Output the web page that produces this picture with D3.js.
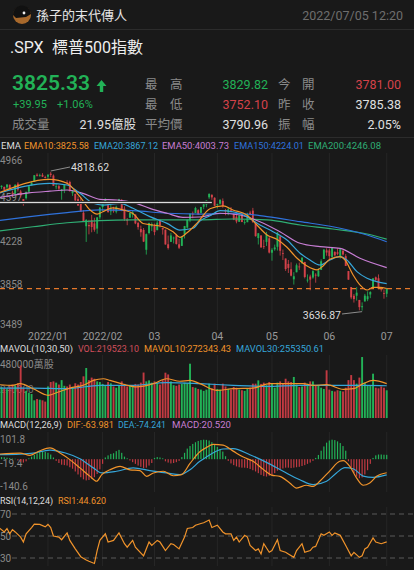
<!DOCTYPE html>
<html><head><meta charset="utf-8">
<script src="https://cdn.jsdelivr.net/npm/d3@7"></script>
<style>
html,body{margin:0;padding:0;background:#191919;overflow:hidden;}
svg{display:block;}
text{font-family:Roboto,"Noto Sans CJK TC","Noto Sans",sans-serif;}
</style></head><body>
<svg id="c" width="414" height="570"></svg>
<script>
// ---------- DATA (S&P 500 daily, 2021-12-07 .. 2022-07-01) ----------
const opens = [
4631.97,4690.86,4691.00,4687.64,4710.30,4642.99,4636.46,4719.13,4652.50,4587.90,4594.96,4650.36,4703.96,4733.99,4795.49,4788.64,4794.23,4775.21,
4778.14,4804.51,4787.99,4693.39,4697.66,4655.34,4669.14,4728.59,4733.56,4637.99,4632.24,4588.03,4547.35,4471.38,4356.32,4366.64,4408.43,4380.58,4336.19,4431.79,
4519.57,4566.39,4535.41,4482.79,4505.75,4480.02,4547.00,4553.24,4506.27,4412.61,4429.28,4455.75,4456.06,4384.57,4332.74,4324.93,4155.77,4298.38,4354.17,
4363.14,4322.56,4401.31,4342.12,4327.01,4202.66,4223.10,4252.55,4279.50,4202.75,4188.82,4288.14,4345.11,4407.34,4462.40,4469.10,4493.10,4469.98,4522.66,4541.09,4602.86,4624.20,4599.02,
4540.32,4547.97,4572.45,4494.17,4474.65,4494.15,4462.64,4437.59,4394.30,4449.12,4385.63,4390.63,4472.26,4489.17,4385.83,4255.34,4278.14,4186.52,4222.58,4253.75,
4130.61,4159.78,4181.18,4270.43,4128.17,4081.27,4035.18,3990.08,3903.95,3963.90,4013.02,4052.00,4051.98,3899.00,3927.76,3919.42,3942.94,3929.59,3984.60,4077.43,4151.09,
4149.78,4095.41,4137.57,4134.72,4096.47,4147.12,4101.65,3974.39,3838.15,3763.52,3764.05,3728.18,3665.90,3715.31,3733.89,3774.71,3821.75,3920.76,3913.00,3825.09,3785.99,
3781.00];
const highs = [
4694.04,4705.06,4695.26,4713.57,4710.30,4660.47,4712.60,4731.99,4666.70,4587.90,4651.14,4697.67,4740.74,4791.49,4807.02,4804.06,4808.93,4786.83,
4796.64,4818.62,4797.70,4725.01,4707.95,4673.02,4714.13,4748.83,4744.13,4665.13,4632.24,4611.55,4602.11,4494.52,4417.35,4411.01,4453.23,4428.74,4432.72,4516.89,
4550.49,4595.31,4542.88,4539.66,4521.86,4531.32,4590.03,4588.92,4526.33,4426.22,4472.77,4489.55,4456.06,4394.60,4362.12,4341.51,4294.73,4385.34,4388.84,
4378.45,4401.48,4416.78,4342.12,4327.01,4276.94,4299.40,4268.28,4291.01,4247.57,4271.05,4358.90,4412.67,4465.40,4481.75,4522.00,4501.07,4520.58,4546.03,4575.65,4637.30,4627.77,4603.07,
4548.70,4583.50,4593.45,4503.94,4521.16,4520.41,4464.35,4471.00,4453.92,4460.46,4410.31,4471.03,4488.29,4512.94,4385.83,4299.02,4278.14,4240.71,4308.45,4269.68,
4169.81,4200.10,4307.66,4270.43,4157.69,4081.27,4068.82,4049.09,3964.80,4038.88,4046.46,4090.72,4051.98,3945.96,3943.42,3981.88,3955.68,3999.33,4075.14,4158.49,4168.34,
4166.54,4177.51,4142.67,4168.78,4164.86,4160.14,4119.10,3974.39,3838.15,3778.18,3837.56,3728.18,3707.71,3779.65,3801.79,3802.58,3913.65,3927.72,3945.86,3836.50,3818.99,
3829.82];
const lows = [
4631.97,4674.52,4665.98,4670.24,4667.60,4606.52,4611.22,4651.89,4600.22,4531.10,4583.16,4645.53,4703.96,4733.99,4780.04,4778.08,4775.33,4765.75,
4758.17,4774.27,4699.44,4671.26,4662.74,4582.24,4638.27,4706.71,4650.29,4614.75,4568.70,4530.20,4477.95,4395.34,4222.62,4287.11,4304.80,4309.50,4292.46,4414.02,
4483.53,4544.32,4470.39,4451.50,4471.47,4465.40,4547.00,4484.31,4401.41,4364.84,4429.28,4429.68,4373.81,4327.22,4267.11,4221.51,4114.65,4286.83,4315.12,
4279.54,4322.56,4345.56,4284.98,4199.85,4157.87,4223.10,4209.80,4200.49,4161.72,4187.90,4251.99,4335.65,4390.57,4424.30,4469.10,4455.81,4465.17,4501.07,4517.69,4589.66,4581.32,4530.41,
4507.57,4539.21,4514.17,4450.04,4450.30,4474.60,4408.38,4381.34,4392.70,4390.77,4370.30,4390.63,4448.76,4384.47,4267.62,4200.82,4175.04,4162.90,4188.63,4124.28,
4062.51,4147.08,4148.91,4106.01,4067.91,3975.48,3958.17,3928.82,3858.87,3963.90,3983.99,4033.93,3911.91,3876.58,3810.32,3909.04,3875.13,3925.03,3984.60,4077.43,4104.88,
4073.85,4074.37,4098.67,4109.18,4080.19,4107.20,4017.17,3900.16,3734.30,3705.68,3722.30,3639.77,3636.87,3715.31,3717.69,3743.52,3821.75,3889.66,3820.14,3799.02,3738.67,
3752.10];
const closes = [
4686.75,4701.21,4667.45,4712.02,4668.97,4634.09,4709.85,4668.67,4620.64,4568.02,4649.23,4696.56,4725.79,4791.19,4786.35,4793.06,4778.73,4766.18,
4796.56,4793.54,4700.58,4696.05,4677.03,4670.29,4713.07,4726.35,4659.03,4662.85,4577.11,4532.76,4482.73,4397.94,4410.13,4356.45,4349.93,4326.51,4431.85,4515.55,
4546.54,4589.38,4477.44,4500.53,4483.87,4521.54,4587.18,4504.08,4418.64,4401.67,4471.07,4475.01,4380.26,4348.87,4304.76,4225.50,4288.70,4384.65,4373.94,
4306.26,4386.54,4363.49,4328.87,4201.09,4170.70,4277.88,4259.52,4204.31,4173.11,4262.45,4357.86,4411.67,4463.12,4461.18,4511.61,4456.24,4520.16,4543.06,4575.52,4631.60,4602.45,4530.41,
4545.86,4582.64,4525.12,4481.15,4500.21,4488.28,4412.53,4397.45,4446.59,4392.59,4391.69,4462.21,4459.45,4393.66,4271.78,4296.12,4175.20,4183.96,4287.50,4131.93,
4155.38,4175.48,4300.17,4146.87,4123.34,3991.24,4001.05,3935.18,3930.08,4023.89,4008.01,4088.85,3923.68,3900.79,3901.36,3973.75,3941.48,3978.73,4057.84,4158.24,4132.15,
4101.23,4176.82,4108.54,4121.43,4160.68,4115.77,4017.82,3900.86,3749.63,3735.48,3789.99,3666.77,3674.84,3764.79,3759.89,3795.73,3911.74,3900.11,3821.55,3818.83,3785.38,
3825.33];
// volume, thousands of 萬股
const volK = [
262,245,232,228,250,265,258,275,417,232,215,200,190,140,150,145,140,130,
250,285,290,280,265,300,255,250,265,245,275,265,285,330,396,300,320,311,290,285,
270,260,285,275,250,240,255,290,270,250,260,245,270,265,280,360,290,298,280,
290,275,265,300,359,345,290,260,255,265,270,280,275,430,245,240,230,225,215,225,272,235,272,
230,225,272,250,232,225,246,240,225,220,215,232,240,272,272,298,270,280,260,285,
270,240,280,290,275,311,290,285,325,265,245,250,280,272,290,290,260,255,240,230,378,
225,215,210,220,215,210,240,300,340,300,272,320,483,280,260,255,351,240,235,250,240,
219.52];
// MACD histogram per day
const macdHist = [
8,10,9,7,5,3,2,-6,-12,-16,-10,4,12,20,28,34,36,34,30,22,8,-8,-18,-26,-28,-30,-38,-45,-58,-72,-85,-95,-100,-98,-92,-85,-70,-48,
-22,8,18,25,28,38,44,30,12,4,-6,-14,-22,-30,-36,-42,-40,-30,-18,
6,10,8,4,-10,-16,-20,-18,-14,-8,10,30,50,62,72,80,86,90,92,91,88,80,70,
58,48,36,14,-8,-20,-28,-34,-38,-40,-40,-42,-46,-52,-58,-66,-74,-80,-82,-78,
-74,-66,-54,-48,-44,-40,-40,-42,-40,-38,-36,-32,-28,-22,-16,-8,6,20,40,60,78,
88,92,90,84,76,62,40,-10,-40,-65,-82,-90,-86,-72,-52,-22,6,18,22,22,21,
20.52];
// indicator lines: [day index, value]
const ema10 = [[0,4640],[18.7,4756],[25,4722],[29.7,4608],[33.4,4495],[36,4460],[38.1,4480],[41.8,4512],[45.5,4495],[49.1,4465],[52.8,4380],[56.4,4367],[60.1,4352],[63.8,4310],[66.3,4262],[68.9,4301],[72.5,4381],[77.3,4505],[82.1,4529],[85.7,4495],[90.8,4452],[94.5,4367],[98.2,4282],[101.8,4245],[105.5,4177],[109.2,4083],[112.8,4018],[116.5,3984],[118.7,4018],[121.2,4075],[124.9,4097],[126.7,4069],[129.7,3941],[132.2,3856],[134.8,3813],[137,3836],[139.5,3836],[142,3825.58]];
const ema20 = [[0,4637],[18.7,4722],[25,4708],[29.7,4637],[34.5,4552],[38.1,4537],[44.4,4552],[49.1,4509],[55.3,4438],[61.6,4381],[66.3,4324],[71.1,4339],[73.6,4400],[77.3,4445],[81,4489],[85.7,4480],[90.8,4438],[95.6,4367],[100.4,4310],[105.5,4239],[110.3,4126],[113.9,4069],[117.6,4026],[121.2,4069],[124.9,4097],[127.4,4069],[131.1,3969],[134.8,3913],[138.4,3884],[142,3867.12]];
const ema50 = [[0,4600],[11,4640],[18.7,4655],[25,4665],[30.8,4637],[37,4586],[43.3,4580],[49.1,4560],[55.3,4509],[61.6,4467],[67.4,4432],[73.6,4435],[81,4467],[88.3,4452],[95.6,4395],[102.9,4310],[110.3,4211],[117.6,4182],[124.9,4168],[132.2,4083],[142,4003.73]];
const ema150 = [[0,4404],[11.4,4438],[25,4472],[37,4495],[49.1,4489],[61.6,4467],[73.6,4460],[85.7,4467],[98.2,4438],[110.3,4395],[122.3,4352],[134.8,4282],[142,4224.01]];
const ema200 = [[0,4316],[12.5,4352],[25,4386],[37,4404],[49.1,4410],[61.6,4410],[73.6,4410],[85.7,4418],[98.2,4410],[110.3,4367],[122.3,4333],[134.8,4290],[142,4246.08]];
const mavol10 = [[0,264],[4.9,259],[7.8,272],[12.6,232],[18.1,180],[21.8,206],[26,237],[30.9,259],[34.6,298],[38.3,311],[40.7,298],[45.6,267],[50.5,246],[56.6,272],[61.4,311],[66.3,291],[70,298],[73.6,272],[79.7,219],[85.8,232],[93.1,237],[99.2,272],[105.3,272],[111.4,272],[115.1,259],[120,264],[126.1,227],[129.7,232],[133.4,272],[137,298],[142,272.34]];
const mavol30 = [[0,237],[12.6,237],[24.8,232],[37,259],[49.2,259],[61.4,280],[73.6,272],[85.8,259],[98,251],[110.2,259],[122.4,259],[134.6,259],[142,255.35]];
const dif = [[0,24],[7.8,29],[11.4,18],[15.1,40],[18.7,53],[22.4,29],[26,-2],[29.7,-41],[33.4,-81],[35.8,-104],[37.7,-73],[40.7,-50],[44.4,-34],[48,-50],[51.7,-54],[54.1,-81],[56.6,-65],[60.2,-57],[63.9,-78],[66.9,-73],[70,-20],[73.6,35],[76,55],[78.5,70],[82.1,66],[85.8,38],[89.5,10],[93.1,-10],[96.8,-48],[99.8,-75],[102.9,-81],[106.5,-112],[109,-136],[112.6,-123],[115.1,-128],[117.5,-104],[121.2,-55],[124.8,-10],[126.1,-7],[128.5,-34],[131,-89],[133.4,-123],[135.8,-112],[138.3,-81],[142,-63.98]];
const dea = [[0,21],[7.8,24],[12.6,29],[18.7,43],[24.4,29],[29.7,2],[34.6,-41],[37.7,-65],[43.1,-57],[49.2,-41],[55.3,-54],[61.4,-65],[66.3,-73],[70,-50],[73.6,-10],[76,10],[78.5,30],[82.1,48],[85.8,50],[91.9,21],[98,-15],[104.1,-57],[110.2,-97],[115.1,-120],[120,-104],[123.6,-65],[126.7,-40],[129.7,-45],[133.4,-80],[137,-86],[142,-74.24]];
const rsi = [[0,57.7],[2,53.7],[3,56.8],[4,52],[5,55.8],[6,53.7],[8,49],[9,44.5],[10,52],[12,57.7],[13,60.8],[15,60.5],[17,58.3],[18,60.5],[19,57.7],[20,50],[22,49],[23,46.6],[25,52.8],[26,46],[28,38.3],[30,31.2],[32,28.2],[33,27],[35,25],[36,36.8],[37,46],[39,52],[40,44.5],[42,46],[44,52.8],[46,43],[47,39.8],[49,46],[50,39.8],[53,32],[55,44.5],[56,41.4],[58,46],[59,44.5],[61,36.8],[63,43],[64,42.3],[66,38.3],[68,49],[69,56.8],[71,57.7],[72,59.8],[74,61.4],[75,62],[77,64.5],[78,57.7],[80,59.8],[82,53.7],[83,52],[85,52],[86,46],[87,49],[88,44.5],[90,50.6],[91,49],[92,41.4],[94,36.8],[95,38.3],[96,33.7],[97,43],[99,35.2],[100,36.8],[102,46.6],[103,36.8],[105,35.2],[106,33.7],[108,30.6],[109,36.8],[111,43],[112,35.2],[114,36.8],[115,39.8],[116,40.5],[118,52],[119,50.6],[121,53.7],[122,50.6],[123,52.8],[125,50.6],[127,41.4],[129,32],[130,35.2],[132,30.6],[133,32],[134,38.3],[135,39.8],[137,48.2],[138,44.5],[140,43],[142,44.62]];
const monthIdx = [18,38,57,80,100,121,142];
const monthLabels = ["2022/01","2022/02","03","04","05","06","07"];
const priceTicks = [4966,4597,4228,3858,3489];
const macdTicks = [101.8,-19.4,-140.6];
const rsiLevels = [70,50,30];
const volTicks = [480,240];
const lastPrice = 3825.33, drawnLine = 4558, maxIdx = 19, minIdx = 133;

// ---------- DRAW ----------
const svg = d3.select("#c");
const UP="#22b257", DN="#d4424a", GRID="#262626", LBL="#8a8a8a";
const C10="#f0932b", C20="#36a6d9", C50="#c77dd3", C150="#2f72dc", C200="#2fae74";
const n = closes.length;
const x = d3.scaleLinear().domain([0,142]).range([-1.2,386.7]);
const yP = d3.scaleLinear().domain([3489,4966]).range([328,154.7]);
const yV = d3.scaleLinear().domain([0,480]).range([418,357.4]);
const yM = d3.scaleLinear().domain([-140.6,101.8]).range([489,437.6]);
const yR = d3.scaleLinear().domain([30,70]).range([558,514]);

svg.append("rect").attr("width",414).attr("height",570).attr("fill","#191919");

// fit a text into a max width
function fit(sel, maxW){
  const node = sel.node();
  const w = node.getComputedTextLength();
  if (w > maxW) sel.attr("textLength", maxW).attr("lengthAdjust","spacingAndGlyphs");
  return sel;
}

// header
const av = svg.append("g").attr("transform","translate(22,15)");
av.append("circle").attr("r",9).attr("fill","#a8692c");
av.append("path").attr("d","M-9,0 A9,9 0 0 1 9,-1 L4,2 L-6,3 Z").attr("fill","#111");
av.append("circle").attr("cx",2).attr("cy",-2).attr("r",1.4).attr("fill","#eee");
svg.append("text").attr("x",36).attr("y",20).attr("font-size",13).attr("fill","#e6e6e6").text("孫子的末代傳人");
svg.append("text").attr("x",403).attr("y",20).attr("text-anchor","end").attr("font-size",12.5).attr("fill","#6e6e6e").text("2022/07/05 12:20");
svg.append("line").attr("x1",0).attr("x2",414).attr("y1",29.5).attr("y2",29.5).attr("stroke","#2c2c2c");

svg.append("text").attr("x",10).attr("y",53).attr("font-size",16).attr("fill","#eeeeee").text(".SPX");
svg.append("text").attr("x",52).attr("y",53).attr("font-size",16).attr("fill","#eeeeee").text("標普500指數");

fit(svg.append("text").attr("x",12).attr("y",90).attr("font-size",21).attr("font-weight",600).attr("fill",UP).text("3825.33"), 82);
svg.append("path").attr("d","M101.5,80 L106.5,86 L103.2,86 L103.2,92 L99.8,92 L99.8,86 L96.5,86 Z").attr("fill",UP);
svg.append("text").attr("x",13).attr("y",107.5).attr("font-size",11).attr("fill",UP).text("+39.95");
svg.append("text").attr("x",57).attr("y",107.5).attr("font-size",11).attr("fill",UP).text("+1.06%");
svg.append("text").attr("x",12).attr("y",129).attr("font-size",12.5).attr("fill",LBL).text("成交量");
svg.append("text").attr("x",136).attr("y",129).attr("text-anchor","end").attr("font-size",12.5).attr("fill","#e0e0e0").text("21.95億股");

const rows = [
  {y:89, a:["最","高"], v1:"3829.82", c1:UP, b:["今","開"], v2:"3781.00", c2:DN},
  {y:109, a:["最","低"], v1:"3752.10", c1:DN, b:["昨","收"], v2:"3785.38", c2:"#e0e0e0"},
  {y:129, a:["平均價"], v1:"3790.96", c1:"#e0e0e0", b:["振","幅"], v2:"2.05%", c2:"#e0e0e0"}
];
rows.forEach(r=>{
  if(r.a.length===2){
    svg.append("text").attr("x",145).attr("y",r.y).attr("font-size",12.5).attr("fill",LBL).text(r.a[0]);
    svg.append("text").attr("x",170).attr("y",r.y).attr("font-size",12.5).attr("fill",LBL).text(r.a[1]);
  } else {
    svg.append("text").attr("x",145).attr("y",r.y).attr("font-size",12.5).attr("fill",LBL).text(r.a[0]);
  }
  svg.append("text").attr("x",268).attr("y",r.y).attr("text-anchor","end").attr("font-size",12.5).attr("fill",r.c1).text(r.v1);
  svg.append("text").attr("x",278).attr("y",r.y).attr("font-size",12.5).attr("fill",LBL).text(r.b[0]);
  svg.append("text").attr("x",302).attr("y",r.y).attr("font-size",12.5).attr("fill",LBL).text(r.b[1]);
  svg.append("text").attr("x",401).attr("y",r.y).attr("text-anchor","end").attr("font-size",12.5).attr("fill",r.c2).text(r.v2);
});
svg.append("line").attr("x1",0).attr("x2",414).attr("y1",137.5).attr("y2",137.5).attr("stroke","#2c2c2c");

// legend helper: items [x, text, colour, maxWidth]
function legend(y, items){
  items.forEach(it=>{
    const t = svg.append("text").attr("x",it[0]).attr("y",y).attr("font-size",9.6).attr("fill",it[2]).text(it[1]);
    fit(t, it[3]);
  });
}
legend(149,[[1,"EMA","#dddddd",20],[24,"EMA10:3825.58",C10,65],[94,"EMA20:3867.12",C20,64],[162,"EMA50:4003.73",C50,67],[234,"EMA150:4224.01",C150,70],[308,"EMA200:4246.08",C200,73]]);
legend(352,[[0,"MAVOL(10,30,50)","#dddddd",73],[78,"VOL:219523.10","#d24f5c",61],[144,"MAVOL10:272343.43",C10,87],[236,"MAVOL30:255350.61",C20,88]]);
legend(428,[[0,"MACD(12,26,9)","#dddddd",62],[67,"DIF:-63.981",C10,47],[118,"DEA:-74.241",C20,48],[172,"MACD:20.520",C50,59]]);
legend(504,[[0,"RSI(14,12,24)","#dddddd",53],[58,"RSI1:44.620",C10,48]]);

// vertical month grid lines in every panel
[[153,330],[355,419],[432,492],[507,566]].forEach(([a,b])=>{
  svg.append("g").selectAll("line").data(monthIdx).join("line")
    .attr("x1",d=>x(d)).attr("x2",d=>x(d)).attr("y1",a).attr("y2",b)
    .attr("stroke",GRID).attr("stroke-width",1);
});

// ---------- price panel ----------
svg.append("g").selectAll("text").data(priceTicks).join("text")
  .attr("x",0).attr("y",(d,i)=> yP(d) + (i===0?9.5:(i===priceTicks.length-1?0:3.5)))
  .attr("font-size",10).attr("fill",LBL).text(d=>d);

svg.append("g").selectAll("text").data(monthLabels).join("text")
  .attr("x",(d,i)=>x(monthIdx[i])).attr("y",339.5).attr("text-anchor","middle")
  .attr("font-size",10.5).attr("fill","#9a9a9a").text(d=>d);

const pc = svg.append("g");
const idx = d3.range(n);
pc.selectAll("line.w").data(idx).join("line").attr("class","w")
  .attr("x1",i=>x(i)).attr("x2",i=>x(i))
  .attr("y1",i=>yP(highs[i])).attr("y2",i=>yP(lows[i]))
  .attr("stroke",i=>closes[i]>=opens[i]?UP:DN).attr("stroke-width",0.8);
pc.selectAll("rect.b").data(idx).join("rect").attr("class","b")
  .attr("x",i=>x(i)-0.95).attr("width",1.9)
  .attr("y",i=>yP(Math.max(opens[i],closes[i])))
  .attr("height",i=>Math.max(0.8, Math.abs(yP(opens[i])-yP(closes[i]))))
  .attr("fill",i=>closes[i]>=opens[i]?UP:DN);

const lineP = d3.line().x(d=>x(d[0])).y(d=>yP(d[1])).curve(d3.curveMonotoneX);
[[ema200,C200],[ema150,C150],[ema50,C50],[ema20,C20],[ema10,C10]].forEach(([s,c])=>{
  pc.append("path").attr("d",lineP(s)).attr("fill","none").attr("stroke",c).attr("stroke-width",1.2);
});
// user-drawn horizontal line
pc.append("line").attr("x1",x(0)).attr("x2",x(78)).attr("y1",yP(drawnLine)).attr("y2",yP(drawnLine))
  .attr("stroke","#000").attr("stroke-width",3);
pc.append("line").attr("x1",x(0)).attr("x2",x(78)).attr("y1",yP(drawnLine)).attr("y2",yP(drawnLine))
  .attr("stroke","#dcdcdc").attr("stroke-width",1.5);
// last price dashed line
pc.append("line").attr("x1",0).attr("x2",414).attr("y1",yP(lastPrice)).attr("y2",yP(lastPrice))
  .attr("stroke","#e5782a").attr("stroke-width",1.2).attr("stroke-dasharray","5,4");
// max / min annotations
pc.append("line").attr("x1",x(maxIdx)).attr("y1",yP(highs[maxIdx])-1).attr("x2",70).attr("y2",167)
  .attr("stroke","#aaaaaa").attr("stroke-width",0.8);
pc.append("text").attr("x",71).attr("y",170.5).attr("font-size",10.5).attr("fill","#dddddd").text(highs[maxIdx].toFixed(2));
pc.append("line").attr("x1",x(minIdx)).attr("y1",yP(lows[minIdx])+1).attr("x2",342).attr("y2",314)
  .attr("stroke","#aaaaaa").attr("stroke-width",0.8);
pc.append("text").attr("x",341).attr("y",318.5).attr("text-anchor","end").attr("font-size",10.5).attr("fill","#dddddd").text(lows[minIdx].toFixed(2));

// ---------- volume panel ----------
svg.append("text").attr("x",0).attr("y",367.5).attr("font-size",10).attr("fill",LBL).text(volTicks[0]+"000萬股");
svg.append("text").attr("x",0).attr("y",392.5).attr("font-size",10).attr("fill","#6e6e6e").text(volTicks[1]+"000");
svg.append("g").selectAll("rect").data(idx).join("rect")
  .attr("x",i=>x(i)-0.95).attr("width",1.9)
  .attr("y",i=>yV(volK[i])).attr("height",i=>yV(0)-yV(volK[i]))
  .attr("fill",i=>closes[i]>=opens[i]?UP:"#c23a42");
const lineV = d3.line().x(d=>x(d[0])).y(d=>yV(d[1])).curve(d3.curveMonotoneX);
svg.append("path").attr("d",lineV(mavol30)).attr("fill","none").attr("stroke",C20).attr("stroke-width",1.2);
svg.append("path").attr("d",lineV(mavol10)).attr("fill","none").attr("stroke",C10).attr("stroke-width",1.2);

// ---------- MACD panel ----------
svg.append("g").selectAll("text").data(macdTicks).join("text")
  .attr("x",0).attr("y",(d,i)=> yM(d) + (i===0?5.5:(i===2?0.5:3.5)))
  .attr("font-size",10).attr("fill",LBL).text(d=>d);
svg.append("g").selectAll("rect").data(idx).join("rect")
  .attr("x",i=>x(i)-0.6).attr("width",1.2)
  .attr("y",i=>Math.min(yM(0),yM(macdHist[i])))
  .attr("height",i=>Math.abs(yM(macdHist[i])-yM(0)))
  .attr("fill",i=>macdHist[i]>=0?UP:"#c23a42");
const lineM = d3.line().x(d=>x(d[0])).y(d=>yM(d[1])).curve(d3.curveMonotoneX);
svg.append("path").attr("d",lineM(dea)).attr("fill","none").attr("stroke",C20).attr("stroke-width",1.2);
svg.append("path").attr("d",lineM(dif)).attr("fill","none").attr("stroke",C10).attr("stroke-width",1.2);

// ---------- RSI panel ----------
rsiLevels.forEach(v=>{
  svg.append("line").attr("x1",12).attr("x2",414).attr("y1",yR(v)).attr("y2",yR(v))
    .attr("stroke","#5a5a5a").attr("stroke-width",1).attr("stroke-dasharray","5,4");
  svg.append("text").attr("x",0).attr("y",yR(v)+3.5).attr("font-size",10).attr("fill",LBL).text(v);
});
const lineR = d3.line().x(d=>x(d[0])).y(d=>yR(d[1]));
svg.append("path").attr("d",lineR(rsi)).attr("fill","none").attr("stroke",C10).attr("stroke-width",1.2);
</script>
</body></html>
